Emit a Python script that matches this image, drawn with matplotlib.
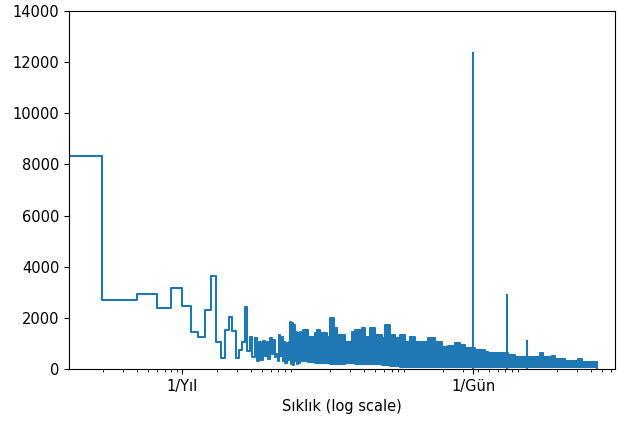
import numpy as np
import matplotlib
matplotlib.use('Agg')
import matplotlib.pyplot as plt

years_per_dataset = 5.08

# |FFT| for the first frequency bins (bin k -> k / years_per_dataset per year)
low_amp = [
    8350, 2700, 2950, 2400, 3150, 2450, 1450, 1260, 2310, 3650,
    1070, 430, 1530, 2050, 1500, 420, 750, 1050, 2440, 700,
    1250, 450, 1200, 300, 1050, 350, 1100, 500, 1050, 400,
    1200, 600, 1150, 450, 600, 300, 1330, 500, 1250, 300,
    1070, 250, 1000, 350, 1070, 1850, 200, 1800, 150, 1700,
    300, 1460, 200, 1400, 250, 1460, 300,
]

band_freq = [
    11.23, 11.46, 12.69, 14.62, 15.23, 16.19, 18.66, 19.83, 21.51, 22.87,
    26.91, 31.01, 32.97, 38.01, 40.40, 44.73, 49.50, 57.06, 60.67, 67.14,
    74.31, 82.29, 91.08, 100.8, 111.6, 145.3, 167.6, 193.2, 218.3, 251.6,
    278.4, 308.3, 377.7, 463.0, 492.0, 695.0, 738.7, 851.7, 1155, 1415,
    1504, 1807, 1920, 2353, 3064, 3323, 4500,
]
band_top = [
    1200, 1525, 1260, 1400, 1525, 1400, 1260, 1980, 1590, 1330,
    1070, 1460, 1525, 1590, 1260, 1590, 1330, 1200, 1720, 1330,
    1200, 1330, 1070, 1260, 1070, 1200, 1070, 870, 880, 1000,
    940, 810, 740, 680, 610, 610, 550, 480, 460, 610,
    460, 510, 380, 330, 400, 290, 290,
]
band_bottom = [
    300, 300, 280, 250, 250, 250, 250, 200, 200, 200,
    250, 250, 200, 200, 200, 180, 180, 150, 150, 120,
    100, 90, 90, 90, 90, 90, 90, 90, 90, 90,
    90, 90, 90, 90, 90, 90, 90, 90, 90, 90,
    90, 90, 90, 90, 90, 90, 90,
]

# daily cycle and its harmonics
spike_freq = [365.25, 730.5, 1096.0]
spike_amp = [12400, 2950, 1130]

tick_freq = [1, 365.2524]
tick_labels = ['1/Yıl', '1/Gün']

color = '#1f77b4'

plt.rcParams['font.size'] = 10.5

fig, ax = plt.subplots(figsize=(6.19, 4.28), dpi=100)
fig.subplots_adjust(left=0.1115, right=0.9935, bottom=0.138, top=0.974)

f_low = np.arange(0, len(low_amp) + 1) / years_per_dataset
amp_low = [low_amp[0]] + low_amp
ax.step(f_low, amp_low, where='pre', color=color, lw=1.5)

ax.fill_between(band_freq, band_bottom, band_top, step='post',
                color=color, lw=0)
ax.step(band_freq, band_top, where='post', color=color, lw=1.5)
ax.step(band_freq, band_bottom, where='post', color=color, lw=1.5)
ax.vlines(band_freq[-1], 0, band_top[-1], color=color, lw=1.5)

ax.vlines(spike_freq, 0, spike_amp, color=color, lw=1.5)

ax.set_xscale('log')
ax.set_ylim(0, 14000)
ax.set_xlim([0.1, 6500])
ax.set_xticks(tick_freq, labels=tick_labels)
ax.set_xlabel('Sıklık (log scale)')

plt.savefig('out.png', dpi=100)
